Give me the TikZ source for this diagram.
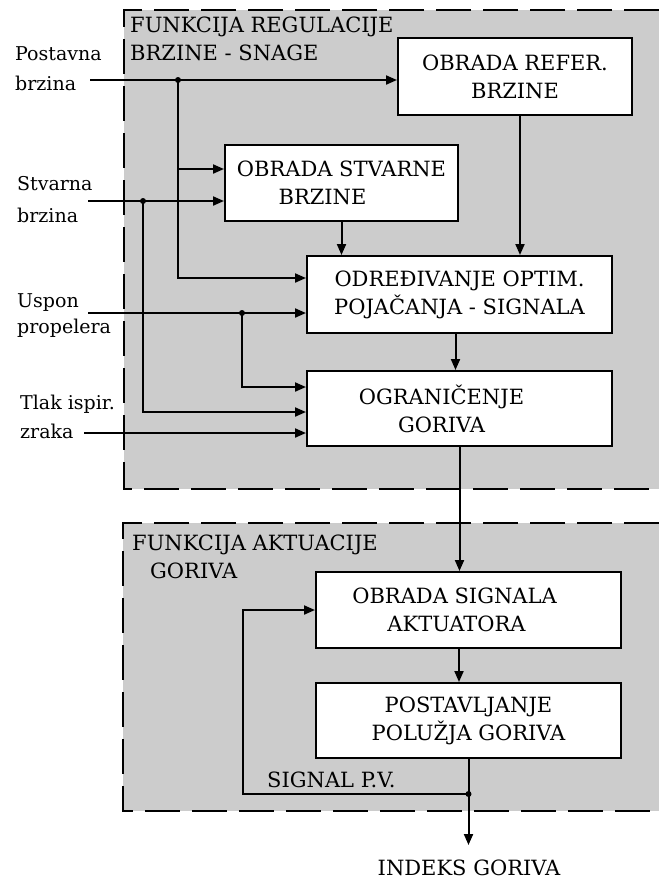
\documentclass[tikz,border=0pt]{standalone}
\usepackage{fontspec}
\setmainfont{DejaVu Serif}
\usetikzlibrary{arrows.meta}
\definecolor{regiongray}{RGB}{204,204,204}
\begin{document}
\begin{tikzpicture}[x=1pt,y=-1pt,
  regionedge/.style={line width=2pt,dash pattern=on 35pt off 12pt},
  blk/.style={draw,line width=2pt,fill=white,inner sep=0pt,align=center,font=\fontsize{21}{28}\selectfont},
  conn/.style={line width=2pt},
  arr/.style={conn,-{Triangle[length=11pt,width=9pt]}},
  lbl/.style={inner sep=0pt,align=left,anchor=north west},
  txt/.style={inner sep=0pt,font=\fontsize{21}{28}\selectfont}
  ]
\useasboundingbox (0,0) rectangle (659,879);
% regions
\fill[regiongray] (124,10) rectangle (659,489);
\draw[regionedge] (659,10) -- (124,10) -- (124,489) -- (659,489);
\fill[regiongray] (123,523) rectangle (659,811);
\draw[regionedge] (659,523) -- (123,523) -- (123,811) -- (659,811);
% blocks
\node[blk,minimum width=234pt,minimum height=77pt] (ref) at (515,76.5) {OBRADA REFER.\\BRZINE};
\node[blk,minimum width=233pt,minimum height=76pt] (stv) at (341.5,183) {OBRADA STVARNE\\BRZINE\hspace*{38pt}};
\node[blk,minimum width=305pt,minimum height=77pt] (odr) at (459.5,294.5) {ODREĐIVANJE OPTIM.\\POJAČANJA - SIGNALA};
\node[blk,minimum width=305pt,minimum height=75pt] (ogr) at (459.5,408.5) {OGRANIČENJE\hspace*{36pt}\\GORIVA\hspace*{36pt}};
\node[blk,minimum width=305pt,minimum height=76pt] (obs) at (468.5,610) {OBRADA SIGNALA\hspace*{28pt}\\AKTUATORA\hspace*{24pt}};
\node[blk,minimum width=305pt,minimum height=75pt] (pos) at (468.5,720.5) {POSTAVLJANJE\\POLUŽJA GORIVA};
% labels
\node[lbl,font=\fontsize{19}{30}\selectfont] (lpost) at (15,46) {Postavna\\brzina};
\node[lbl,font=\fontsize{19}{32}\selectfont] (lstv) at (17,176) {Stvarna\\brzina};
\node[lbl,font=\fontsize{19}{26}\selectfont] (lusp) at (17,293) {Uspon\\propelera};
\node[lbl,font=\fontsize{19}{29}\selectfont] (ltlak) at (20,394.6) {Tlak ispir.\\zraka};
\node[lbl,font=\fontsize{21}{28}\selectfont] (lreg) at (130,17) {FUNKCIJA REGULACIJE\\BRZINE - SNAGE};
\node[lbl,font=\fontsize{21}{28}\selectfont] (lakt) at (132,535) {FUNKCIJA AKTUACIJE\\\hspace*{18pt}GORIVA};
\node[txt,anchor=base west] (lsig) at (267,787) {SIGNAL P.V.};
\node[txt,anchor=base] (lidx) at (469,875) {INDEKS GORIVA};
% coordinates
\coordinate (pin1) at (90,80);
\coordinate (j1) at (178,80);
\coordinate (j1b) at (178,169);
\coordinate (pin2) at (88,201);
\coordinate (j2) at (143,201);
\coordinate (pin3) at (88,313);
\coordinate (j3) at (242,313);
\coordinate (pin4) at (84,433);
\coordinate (j4) at (468.5,794);
\coordinate (fb) at (243,794);
\coordinate (out) at (468.5,845);
% connectors
\draw[arr] (pin1) -- (pin1 -| ref.west);
\draw[arr] (j1) |- ([yshift=16.5pt]odr.west);
\draw[arr] (j1b) -- (j1b -| stv.west);
\draw[arr] (pin2) -- (pin2 -| stv.west);
\draw[arr] (j2) |- ([yshift=-3.5pt]ogr.west);
\draw[arr] (pin3) -- (pin3 -| odr.west);
\draw[arr] (j3) |- ([yshift=21.5pt]ogr.west);
\draw[arr] (pin4) -- (pin4 -| ogr.west);
\draw[arr] (stv.south) -- (stv.south |- odr.north);
\draw[arr] ([xshift=5pt]ref.south) -- ([xshift=5pt]ref.south |- odr.north);
\draw[arr] ([xshift=-4pt]odr.south) -- ([xshift=-4pt]odr.south |- ogr.north);
\draw[arr] (ogr.south) -- (ogr.south |- obs.north);
\draw[arr] ([xshift=-9.5pt]obs.south) -- ([xshift=-9.5pt]obs.south |- pos.north);
\draw[arr] (pos.south) -- (out);
\draw[arr] (j4) -- (fb) |- (obs.west);
% junction dots
\foreach \p in {j1,j2,j3,j4} \fill (\p) circle (3pt);
\end{tikzpicture}
\end{document}
